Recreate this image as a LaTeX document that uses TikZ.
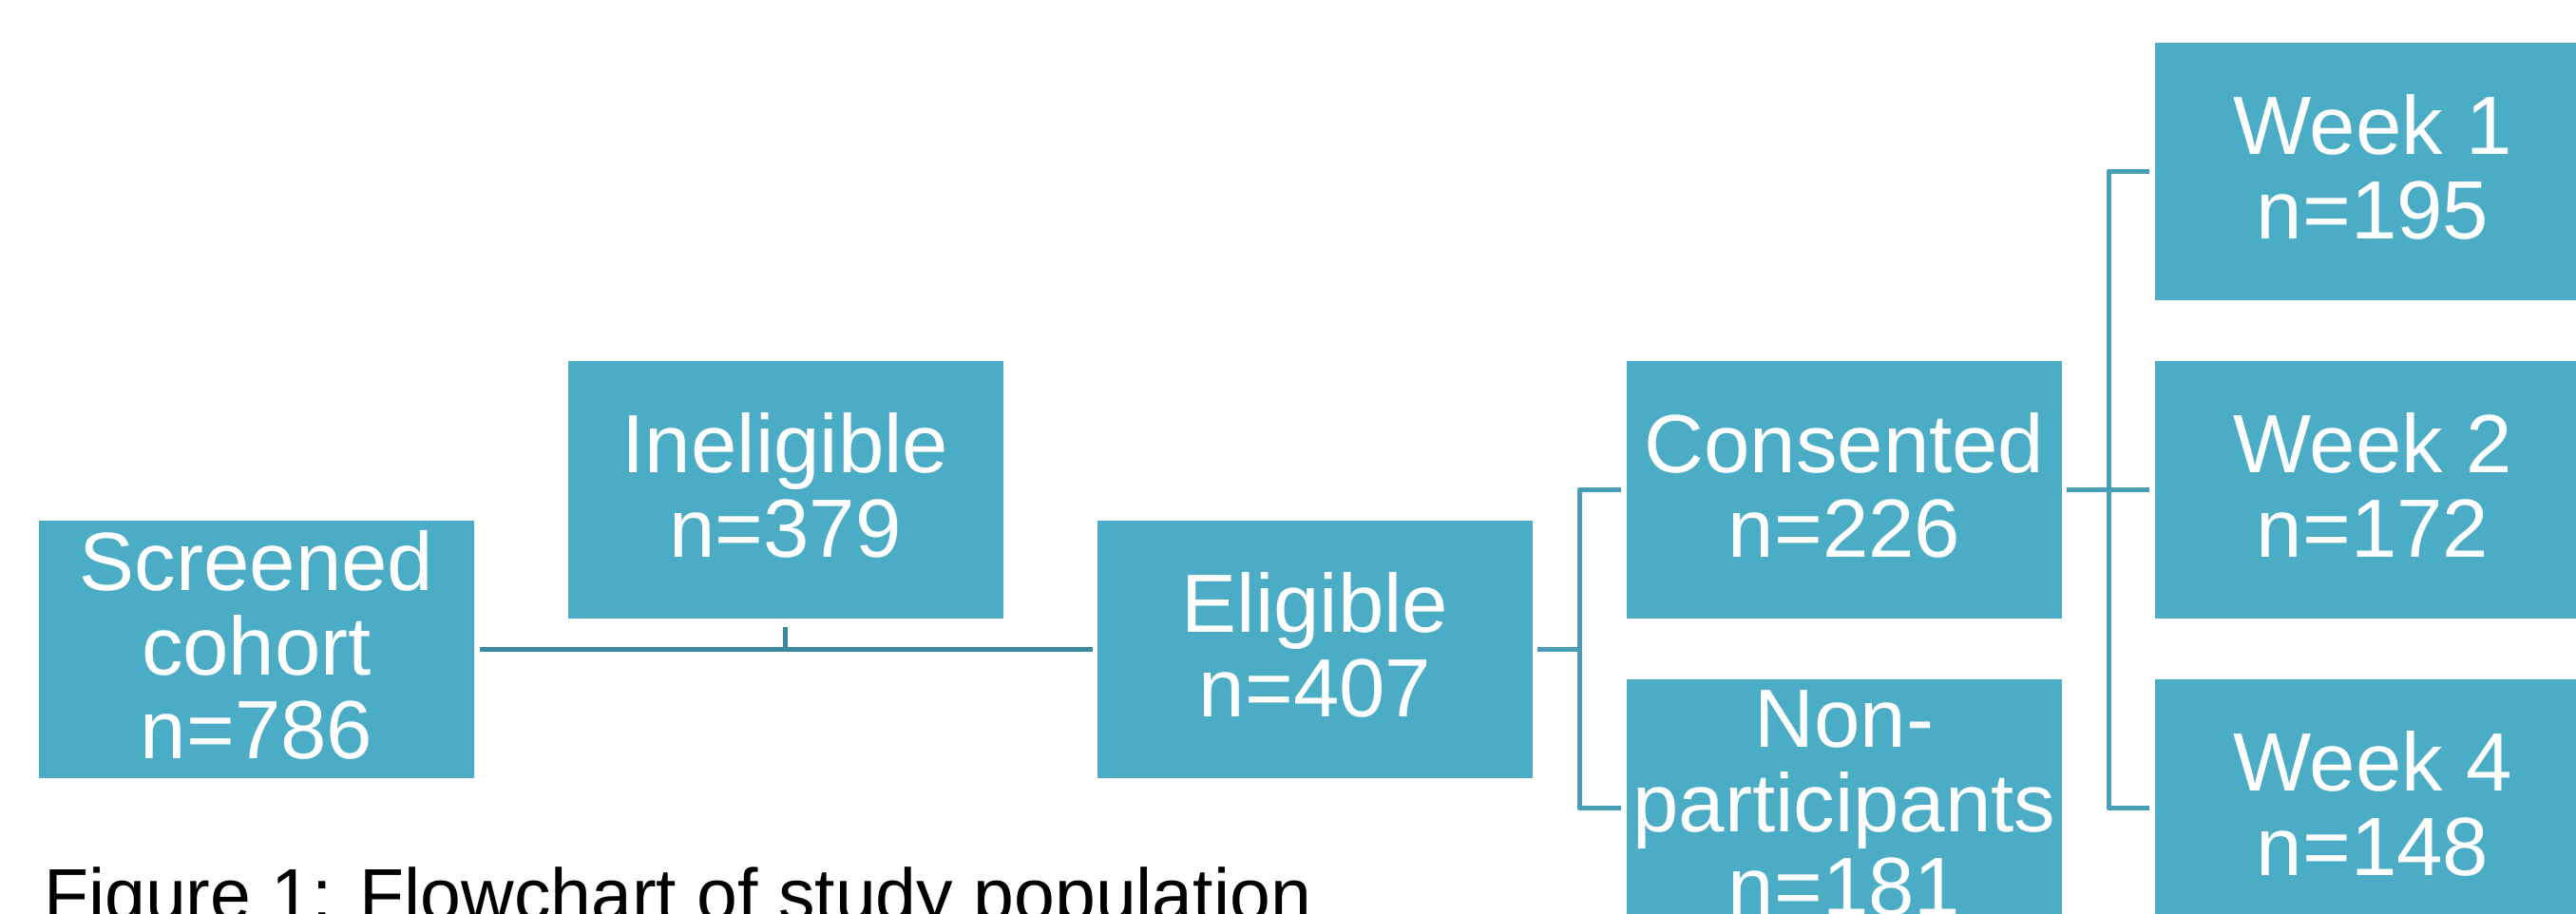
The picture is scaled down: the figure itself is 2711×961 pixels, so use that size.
\documentclass[tikz,border=0pt]{standalone}
\usepackage{fontspec}
\setmainfont{Liberation Sans}
\usetikzlibrary{calc}
\definecolor{boxfill}{RGB}{75,172,198}
\definecolor{conA}{RGB}{59,137,158}
\definecolor{conB}{RGB}{71,157,181}
\newcommand\lastdp{\rule[-10pt]{0pt}{10pt}}
\begin{document}
\begin{tikzpicture}[x=1pt,y=-1pt,
  stage/.style={rectangle, fill=boxfill, draw=none, minimum width=458pt,
    minimum height=271pt, inner sep=0pt, align=center, text=white,
    font=\fontsize{87}{88.5}\selectfont},
  link/.style={line width=5pt, line join=round},
  caption/.style={anchor=base west, inner sep=0pt, text=black,
    font=\fontsize{77}{82}\selectfont}]
\clip (0,0) rectangle (2711,961);

\node[stage] (scr)  at (270,683.5)  {Screened\\cohort\\n=786\lastdp};
\node[stage] (inel) at (826.5,515.5) {Ineligible\\n=379\lastdp};
\node[stage] (elig) at (1384,683.5) {Eligible\\n=407\lastdp};
\node[stage] (cons) at (1941,515.5) {Consented\\n=226\lastdp};
\node[stage] (nonp) at (1941,850.5) {Non-\\participants\\n=181\lastdp};

\node[stage] (w1) at (2497,180.5) {Week 1\\n=195\lastdp};
\node[stage] (w2) at (2497,515.5) {Week 2\\n=172\lastdp};
\node[stage] (w4) at (2497,850.5) {Week 4\\n=148\lastdp};

% screened -> eligible, with ineligible tick
\draw[link, conA, shorten <=6pt, shorten >=5pt] (scr.east) -- (elig.west);
\draw[link, conA, shorten <=9pt] (inel.south) -- (inel.south |- scr.east);

% eligible -> consented / non-participants
\coordinate (b1) at (1662,683.5);
\draw[link, conB, shorten <=5pt] (elig.east) -- (b1);
\draw[link, conB] ([xshift=-6pt]cons.west) -- (b1 |- cons.west)
  -- (b1 |- nonp.west) -- ([xshift=-6pt]nonp.west);

% consented -> weeks
\coordinate (b2) at (2219,515.5);
\draw[link, conB] ([xshift=5pt]cons.east) -- ([xshift=-6pt]w2.west);
\draw[link, conB] ([xshift=-6pt]w1.west) -- (b2 |- w1.west)
  -- (b2 |- w4.west) -- ([xshift=-6pt]w4.west);

\node[caption] (cap) at (46,968) {Figure 1: Flowchart of study population};
\end{tikzpicture}
\end{document}
